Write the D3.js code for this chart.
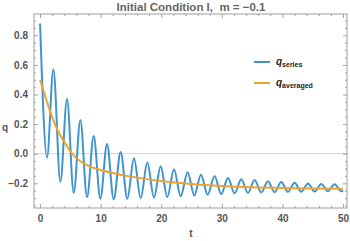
<!DOCTYPE html>
<html><head><meta charset="utf-8">
<script src="https://cdn.jsdelivr.net/npm/d3@7"></script>
<style>body{margin:0;background:#fff}svg{display:block}</style>
</head><body>
<svg id="c" width="350" height="241"></svg>
<script>
const titleText = "Initial Condition I,  m = \u22120.1";
const xTicks = [0, 10, 20, 30, 40, 50];
const yTicks = [-0.2, 0.0, 0.2, 0.4, 0.6, 0.8];
// q_series: turning points (t, q)
const seriesT = [0, 1.15, 2.2, 3.35, 4.45, 5.55, 6.65, 7.75, 8.85, 9.95, 11.05, 12.15, 13.3, 14.4, 15.5, 16.6, 17.7, 18.8, 19.9, 21.0, 22.1, 23.2, 24.35, 25.45, 26.55, 27.65, 28.8, 29.9, 31.0, 32.1, 33.2, 34.3, 35.4, 36.5, 37.6, 38.7, 39.8, 40.9, 42.0, 43.1, 44.2, 45.3, 46.4, 47.5, 48.6, 49.7, 50];
const seriesQ = [0.88, -0.025, 0.57, -0.19, 0.37, -0.265, 0.228, -0.295, 0.12, -0.305, 0.066, -0.308, 0.012, -0.305, -0.03, -0.30, -0.06, -0.297, -0.085, -0.293, -0.105, -0.288, -0.125, -0.282, -0.142, -0.277, -0.153, -0.272, -0.164, -0.268, -0.172, -0.265, -0.178, -0.262, -0.186, -0.26, -0.192, -0.258, -0.197, -0.257, -0.201, -0.255, -0.204, -0.254, -0.207, -0.253, -0.25];
// q_averaged
const avgT = [0, 1, 2, 3, 4, 5, 6, 7, 8, 10, 12, 15, 20, 25, 30, 35, 40, 45, 50];
const avgQ = [0.50, 0.37, 0.245, 0.15, 0.08, 0.015, -0.03, -0.06, -0.082, -0.11, -0.13, -0.155, -0.185, -0.205, -0.218, -0.227, -0.232, -0.235, -0.237];
const legendLabels = ["series", "averaged"];

const svg = d3.select("#c");
const L = 34, R = 347, T = 14, B = 208;
const x = d3.scaleLinear().domain([-1.0, 50.65]).range([L, R]);
const y = d3.scaleLinear().domain([-0.367, 0.944]).range([B, T]);
const gray = "#a0a0a0", txt = "#555";
const font = "'Liberation Sans', Arial, sans-serif";

// zero line
svg.append("line").attr("x1", L).attr("x2", R).attr("y1", y(0)).attr("y2", y(0))
  .attr("stroke", "#d0d0d0").attr("stroke-width", 1);

// frame
svg.append("rect").attr("x", L).attr("y", T).attr("width", R - L).attr("height", B - T)
  .attr("fill", "none").attr("stroke", gray).attr("stroke-width", 1);

// ticks via axes
const xMinor = d3.range(0, 51, 2).filter(v => v % 10 !== 0);
const yMinor = d3.range(-0.35, 0.95, 0.05).map(v => +v.toFixed(2)).filter(v => Math.abs(Math.round(v * 5) - v * 5) > 1e-6);
function styleAxis(g) {
  g.select(".domain").remove();
  g.selectAll("line").attr("stroke", gray);
  g.selectAll("text").attr("fill", txt).style("font-family", font).style("font-size", "10px").style("font-weight", "bold");
}
svg.append("g").attr("transform", `translate(0,${B})`)
  .call(d3.axisBottom(x).tickValues(xTicks).tickSize(-4).tickPadding(7).tickFormat(d3.format("d"))).call(styleAxis);
svg.append("g").attr("transform", `translate(0,${B})`)
  .call(d3.axisBottom(x).tickValues(xMinor).tickSize(-2).tickFormat("")).call(styleAxis);
svg.append("g").attr("transform", `translate(0,${T})`)
  .call(d3.axisTop(x).tickValues(xTicks).tickSize(-4).tickFormat("")).call(styleAxis);
svg.append("g").attr("transform", `translate(0,${T})`)
  .call(d3.axisTop(x).tickValues(xMinor).tickSize(-2).tickFormat("")).call(styleAxis);
svg.append("g").attr("transform", `translate(${L},0)`)
  .call(d3.axisLeft(y).tickValues(yTicks).tickSize(-4).tickPadding(6).tickFormat(d3.format(".1f"))).call(styleAxis);
svg.append("g").attr("transform", `translate(${L},0)`)
  .call(d3.axisLeft(y).tickValues(yMinor).tickSize(-2).tickFormat("")).call(styleAxis);
svg.append("g").attr("transform", `translate(${R},0)`)
  .call(d3.axisRight(y).tickValues(yTicks).tickSize(-4).tickFormat("")).call(styleAxis);
svg.append("g").attr("transform", `translate(${R},0)`)
  .call(d3.axisRight(y).tickValues(yMinor).tickSize(-2).tickFormat("")).call(styleAxis);

// lines
const blue = "#3d95cf", orange = "#f2a22c";
svg.append("clipPath").attr("id", "pc").append("rect").attr("x", L).attr("y", T).attr("width", R - L).attr("height", B - T);
const line = d3.line().x(d => x(d[0])).y(d => y(d[1])).curve(d3.curveMonotoneX);
svg.append("path").datum(seriesT.map((t, i) => [t, seriesQ[i]])).attr("d", line)
  .attr("fill", "none").attr("stroke", blue).attr("stroke-width", 2).attr("clip-path", "url(#pc)");
svg.append("path").datum(avgT.map((t, i) => [t, avgQ[i]])).attr("d", line)
  .attr("fill", "none").attr("stroke", orange).attr("stroke-width", 2).attr("clip-path", "url(#pc)");

// title and axis labels
svg.append("text").attr("x", 191).attr("y", 11).attr("text-anchor", "middle")
  .style("white-space", "pre").attr("xml:space", "preserve")
  .attr("fill", "#666").style("font-family", font).style("font-size", "11.5px").style("font-weight", "bold").text(titleText);
svg.append("text").attr("x", 191).attr("y", 237).attr("text-anchor", "middle")
  .attr("fill", txt).style("font-family", font).style("font-size", "10px").style("font-weight", "bold").text("t");
svg.append("text").attr("x", 5).attr("y", 131).attr("text-anchor", "middle")
  .attr("fill", txt).style("font-family", font).style("font-size", "10px").style("font-weight", "bold").text("q");

// legend
const lg = svg.append("g");
[blue, orange].forEach((c, i) => {
  const yy = 62 + i * 21;
  lg.append("line").attr("x1", 254).attr("x2", 270).attr("y1", yy).attr("y2", yy).attr("stroke", c).attr("stroke-width", 2);
  const t = lg.append("text").attr("x", 276).attr("y", yy + 3).attr("fill", "#222")
    .style("font-family", font).style("font-weight", "bold");
  t.append("tspan").style("font-size", "10px").style("font-style", "italic").text("q");
  t.append("tspan").attr("dy", 1.5).style("font-size", "7px").text(legendLabels[i]);
});
</script>
</body></html>
